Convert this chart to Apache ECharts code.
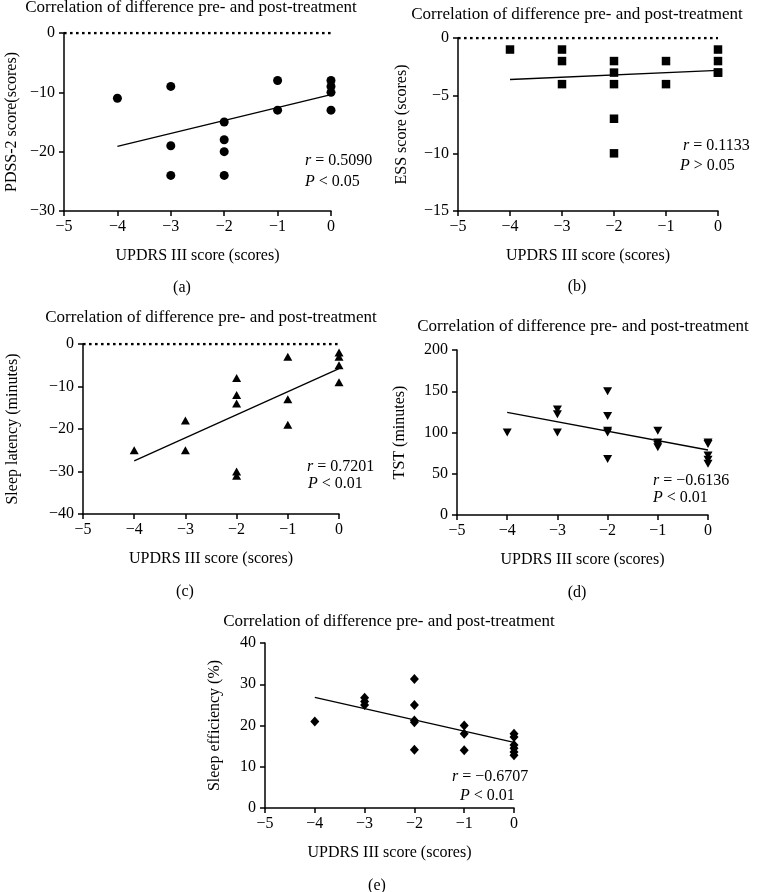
<!DOCTYPE html>
<html><head><meta charset="utf-8">
<script src="https://cdn.jsdelivr.net/npm/echarts@6/dist/echarts.min.js"></script>
<style>html,body{margin:0;padding:0;background:#fff}#c{width:762px;height:892px}</style>
</head><body><div id="c"></div>
<script>
// ---------- data ----------
const titleText = 'Correlation of difference pre- and post-treatment';
const xName = 'UPDRS III score (scores)';
const xMin = -5, xMax = 0, xStep = 1;
const panelLetters = ['(a)', '(b)', '(c)', '(d)', '(e)'];
const yNames = ['PDSS-2 score(scores)', 'ESS score (scores)', 'Sleep latency (minutes)', 'TST (minutes)', 'Sleep efficiency (%)'];
const yMins = [-30, -15, -40, 0, 0];
const yMaxs = [0, 0, 0, 200, 40];
const ySteps = [10, 5, 10, 50, 10];
const rTexts = ['0.5090', '0.1133', '0.7201', '\u22120.6136', '\u22120.6707'];
const pTexts = ['< 0.05', '> 0.05', '< 0.01', '< 0.01', '< 0.01'];
const hasZeroLine = [true, true, true, false, false];
const zeroLineX = [-5, 0];
const zeroLineY = [0, 0];

const aX = [-4, -3, -3, -3, -2, -2, -2, -2, -1, -1, 0, 0, 0, 0];
const aY = [-11, -9, -19, -24, -15, -18, -20, -24, -8, -13, -8, -9, -10, -13];
const aFitX = [-4, 0];
const aFitY = [-19.1, -10.4];

const bX = [-4, -3, -3, -3, -2, -2, -2, -2, -2, -1, -1, 0, 0, 0, 0];
const bY = [-1, -1, -2, -4, -2, -3, -4, -7, -10, -2, -4, -1, -2, -3, -3];
const bFitX = [-4, 0];
const bFitY = [-3.6, -2.8];

const cX = [-4, -3, -3, -2, -2, -2, -2, -2, -1, -1, -1, 0, 0, 0, 0];
const cY = [-25, -18, -25, -8, -12, -14, -30, -31, -3, -13, -19, -2, -3, -5, -9];
const cFitX = [-4, 0];
const cFitY = [-27.5, -5.8];

const dX = [-4, -3, -3, -3, -2, -2, -2, -2, -2, -1, -1, -1, -1, 0, 0, 0, 0, 0];
const dY = [100, 128, 122, 100, 150, 120, 102, 100, 68, 102, 88, 85, 82, 88, 86, 72, 67, 62];
const dFitX = [-4, 0];
const dFitY = [124.4, 78.8];

const eX = [-4, -3, -3, -3, -2, -2, -2, -2, -2, -1, -1, -1, 0, 0, 0, 0, 0, 0];
const eY = [21, 26.7, 25.8, 25, 31.3, 25, 21.2, 20.8, 14.1, 20, 18, 14, 18, 17.2, 15.3, 14.5, 13.6, 12.8];
const eFitX = [-4, 0];
const eFitY = [26.8, 15.9];

const pointsX = [aX, bX, cX, dX, eX];
const pointsY = [aY, bY, cY, dY, eY];
const fitsX = [aFitX, bFitX, cFitX, dFitX, eFitX];
const fitsY = [aFitY, bFitY, cFitY, dFitY, eFitY];

// ---------- layout / style ----------
const FONT = '"Liberation Serif", "Times New Roman", serif';
const FS = 16;
const TFS = 17;
const grids = [
  {left: 64, top: 33, width: 267, height: 178},
  {left: 458, top: 38, width: 260, height: 173},
  {left: 83, top: 344, width: 256, height: 170},
  {left: 457, top: 350, width: 251, height: 165},
  {left: 265, top: 643, width: 249, height: 165}
];
const yNameGaps = [44, 48, 62, 49, 42];
const titlePos = [[191, 8], [577, 15], [211, 318], [583, 327], [389, 622]];
const letterPos = [[182, 288], [577, 287], [185, 592], [577, 593], [377, 886]];
const rPos = [[305, 161], [683, 146], [307, 467], [653, 481], [452, 777]];
const pPos = [[305, 182], [680, 166], [308, 484], [653, 498], [460, 796]];
const symbols = [
  {symbol: 'circle', size: 9, rotate: 0},
  {symbol: 'rect', size: 8.5, rotate: 0},
  {symbol: 'triangle', size: [9, 8], rotate: 0},
  {symbol: 'triangle', size: [9, 8], rotate: 180},
  {symbol: 'diamond', size: [9, 10], rotate: 0}
];

const minus = v => String(v).replace('-', '\u2212');
const lineCol = '#000';

const xAxes = [], yAxes = [], series = [], graphics = [];
for (let i = 0; i < 5; i++) {
  xAxes.push({
    type: 'value', gridIndex: i, min: xMin, max: xMax, interval: xStep,
    axisLine: {onZero: false, lineStyle: {color: lineCol, width: 1.5}},
    axisTick: {length: 5, lineStyle: {color: lineCol, width: 1.5}},
    axisLabel: {color: '#000', fontFamily: FONT, fontSize: FS, margin: 8, formatter: minus},
    splitLine: {show: false},
    name: xName, nameLocation: 'middle', nameGap: 37,
    nameTextStyle: {color: '#000', fontFamily: FONT, fontSize: FS}
  });
  yAxes.push({
    type: 'value', gridIndex: i, min: yMins[i], max: yMaxs[i], interval: ySteps[i],
    axisLine: {onZero: false, lineStyle: {color: lineCol, width: 1.5}},
    axisTick: {length: 5, lineStyle: {color: lineCol, width: 1.5}},
    axisLabel: {color: '#000', fontFamily: FONT, fontSize: FS, margin: 9, formatter: minus},
    splitLine: {show: false},
    name: yNames[i], nameLocation: 'middle', nameGap: yNameGaps[i],
    nameTextStyle: {color: '#000', fontFamily: FONT, fontSize: FS}
  });
  if (hasZeroLine[i]) {
    series.push({
      type: 'line', xAxisIndex: i, yAxisIndex: i, silent: true, symbol: 'none', z: 1,
      data: zeroLineX.map((x, k) => [x, zeroLineY[k]]),
      lineStyle: {color: '#000', width: 2.6, type: [2.6, 3.4], cap: 'butt'}
    });
  }
  series.push({
    type: 'line', xAxisIndex: i, yAxisIndex: i, silent: true, symbol: 'none', z: 2,
    data: fitsX[i].map((x, k) => [x, fitsY[i][k]]),
    lineStyle: {color: '#000', width: 1.3}
  });
  series.push({
    type: 'scatter', xAxisIndex: i, yAxisIndex: i, silent: true, z: 3,
    symbol: symbols[i].symbol, symbolSize: symbols[i].size, symbolRotate: symbols[i].rotate,
    itemStyle: {color: '#000', opacity: 1},
    data: pointsX[i].map((x, k) => [x, pointsY[i][k]])
  });
  const txt = (t, pos, align, size, rich) => ({
    type: 'text', x: pos[0], y: pos[1], silent: true,
    style: {text: t, fill: '#000', font: size + 'px ' + FONT, align: align, verticalAlign: 'middle', rich: rich}
  });
  const italic = {i: {fontStyle: 'italic', fontFamily: FONT, fontSize: FS, fill: '#000'}, n: {fontFamily: FONT, fontSize: FS, fill: '#000'}};
  graphics.push(txt(titleText, titlePos[i], 'center', TFS));
  graphics.push(txt(panelLetters[i], letterPos[i], 'center', FS));
  graphics.push(txt('{i|r}{n| = ' + rTexts[i] + '}', rPos[i], 'left', FS, italic));
  graphics.push(txt('{i|P}{n| ' + pTexts[i] + '}', pPos[i], 'left', FS, italic));
}

const chart = echarts.init(document.getElementById('c'), null, {renderer: 'canvas'});
chart.setOption({
  animation: false,
  backgroundColor: '#fff',
  grid: grids,
  xAxis: xAxes,
  yAxis: yAxes,
  series: series,
  graphic: graphics
});
</script>
</body></html>
